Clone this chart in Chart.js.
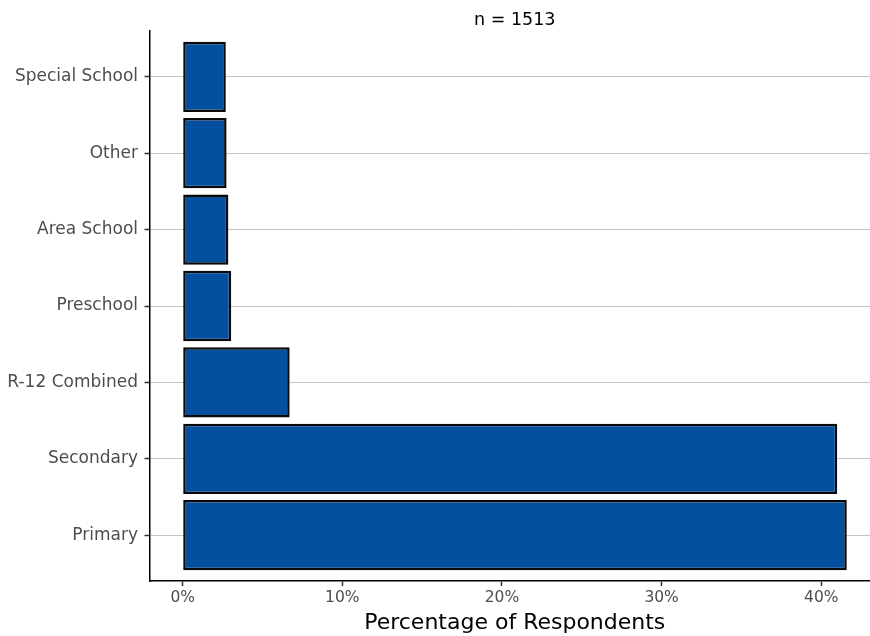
<!DOCTYPE html>
<html>
<head>
<meta charset="utf-8">
<script src="https://cdn.jsdelivr.net/npm/chart.js@4.4.1/dist/chart.umd.min.js"></script>
<style>
  html, body { margin: 0; padding: 0; overflow: hidden; background: #ffffff; }
  #wrap { width: 870px; height: 636px; overflow: hidden; }
  canvas { display: block; }
</style>
</head>
<body>
<div id="wrap"><canvas id="c" width="880" height="636"></canvas></div>
<script>
// Categories listed top to bottom as in the picture
const categories = ["Special School", "Other", "Area School", "Preschool", "R-12 Combined", "Secondary", "Primary"];
// Percentage of respondents (n = 1513)
const percentages = [2.7, 2.75, 2.86, 3.04, 6.7, 41.0, 41.6];
const xTickValues = [0, 10, 20, 30, 40];
const chartTitle = "n = 1513";
const xAxisTitle = "Percentage of Respondents";

const points = categories.map((c, i) => ({ x: percentages[i], y: i + 1 }));
const maxVal = Math.max(...percentages);
const pad = maxVal * 0.05;

const FONT = "'DejaVu Sans', sans-serif";

new Chart(document.getElementById('c'), {
  type: 'bar',
  data: {
    datasets: [{
      data: points,
      backgroundColor: '#04509F',
      borderColor: '#0a0a0a',
      borderWidth: 2.5,
      borderSkipped: false,
      barPercentage: 0.92,
      categoryPercentage: 1.0
    }]
  },
  options: {
    indexAxis: 'y',
    responsive: false,
    animation: false,
    layout: { padding: { top: 0, right: 0, bottom: 0, left: 0 } },
    plugins: {
      legend: { display: false },
      tooltip: { enabled: false },
      title: {
        display: true,
        text: chartTitle,
        fullSize: false,
        color: '#000000',
        font: { family: FONT, size: 17.5, weight: 'normal', lineHeight: 1.2 },
        padding: { top: 10, bottom: 0 }
      }
    },
    scales: {
      x: {
        type: 'linear',
        min: -pad,
        max: maxVal + pad,
        offset: false,
        afterBuildTicks: (s) => { s.ticks = xTickValues.map(v => ({ value: v })); },
        afterFit: (s) => { s.height = 55; },
        border: { display: true, color: '#000000', width: 1.5 },
        grid: { offset: false, drawOnChartArea: false, drawTicks: true, tickLength: 5, tickColor: '#333333', tickWidth: 1.5 },
        ticks: {
          color: '#4D4D4D',
          padding: 3,
          font: { family: FONT, size: 15.5 },
          callback: (v) => v + '%'
        },
        title: {
          display: true,
          text: xAxisTitle,
          color: '#000000',
          font: { family: FONT, size: 22 },
          padding: { top: 0, bottom: 0 }
        }
      },
      y: {
        type: 'linear',
        reverse: true,
        offset: false,
        min: 0.4,
        max: categories.length + 0.6,
        afterBuildTicks: (s) => { s.ticks = categories.map((c, i) => ({ value: i + 1 })); },
        afterFit: (s) => { s.width = 149.5; },
        border: { display: true, color: '#000000', width: 1.5 },
        grid: { offset: false, drawOnChartArea: true, color: '#C4C4C4', lineWidth: 1, drawTicks: true, tickLength: 5, tickColor: '#333333', tickWidth: 1.5 },
        ticks: {
          color: '#4D4D4D',
          padding: 6.5,
          font: { family: FONT, size: 17 },
          callback: (v) => categories[Math.round(v) - 1]
        }
      }
    }
  }
});
</script>
</body>
</html>
